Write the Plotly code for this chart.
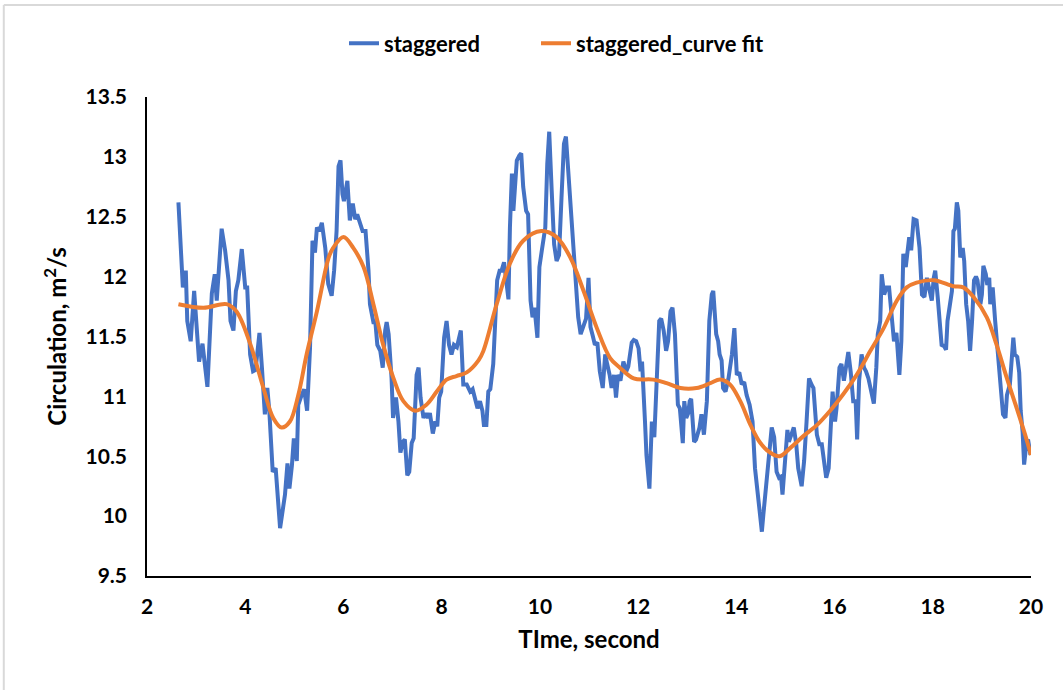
"""
Circulation over time for the staggered case, with the curve fit on top.
"""

import plotly.graph_objects as go

# Raw signal
time_staggered = [
    2.64, 2.73, 2.79, 2.82, 2.89, 2.96, 3.06, 3.13, 3.23, 3.32, 3.38, 3.42, 3.52, 3.59, 3.66, 3.70,
    3.76, 3.81, 3.86, 3.93, 4.00, 4.04, 4.10, 4.16, 4.21, 4.29, 4.34, 4.40, 4.45, 4.49, 4.56, 4.62,
    4.71, 4.76, 4.81, 4.86, 4.90, 4.95, 4.99, 5.05, 5.08, 5.14, 5.20, 5.26, 5.32, 5.37, 5.42, 5.46,
    5.51, 5.56, 5.63, 5.69, 5.76, 5.81, 5.86, 5.90, 5.94, 5.98, 6.01, 6.08, 6.13, 6.19, 6.24, 6.28,
    6.33, 6.39, 6.45, 6.51, 6.54, 6.61, 6.65, 6.69, 6.75, 6.80, 6.85, 6.88, 6.92, 6.98, 7.01, 7.07,
    7.12, 7.16, 7.21, 7.25, 7.30, 7.34, 7.39, 7.43, 7.49, 7.53, 7.57, 7.63, 7.68, 7.72, 7.76, 7.82,
    7.87, 7.91, 7.95, 7.99, 8.05, 8.10, 8.15, 8.20, 8.25, 8.31, 8.39, 8.44, 8.51, 8.58, 8.63, 8.68,
    8.73, 8.78, 8.83, 8.86, 8.91, 8.95, 8.99, 9.05, 9.09, 9.13, 9.18, 9.22, 9.27, 9.31, 9.36, 9.39,
    9.43, 9.46, 9.53, 9.58, 9.62, 9.66, 9.72, 9.76, 9.81, 9.85, 9.89, 9.95, 9.99, 10.04, 10.11, 10.15,
    10.19, 10.24, 10.29, 10.34, 10.39, 10.44, 10.49, 10.53, 10.58, 10.63, 10.67, 10.74, 10.78, 10.83,
    10.88, 10.94, 10.99, 11.03, 11.08, 11.12, 11.17, 11.22, 11.28, 11.33, 11.37, 11.42, 11.46, 11.51,
    11.55, 11.59, 11.64, 11.70, 11.76, 11.80, 11.87, 11.91, 11.96, 12.01, 12.05, 12.08, 12.14, 12.17,
    12.23, 12.28, 12.33, 12.38, 12.43, 12.47, 12.52, 12.57, 12.61, 12.66, 12.70, 12.75, 12.78, 12.81,
    12.85, 12.91, 12.94, 12.98, 13.02, 13.05, 13.08, 13.14, 13.18, 13.25, 13.29, 13.34, 13.40, 13.45,
    13.50, 13.53, 13.59, 13.63, 13.66, 13.70, 13.73, 13.78, 13.84, 13.91, 13.96, 14.01, 14.06, 14.11,
    14.16, 14.21, 14.27, 14.33, 14.38, 14.43, 14.48, 14.52, 14.55, 14.62, 14.67, 14.72, 14.77, 14.82,
    14.87, 14.91, 14.94, 14.99, 15.04, 15.07, 15.12, 15.17, 15.22, 15.26, 15.33, 15.38, 15.43, 15.48,
    15.53, 15.57, 15.64, 15.69, 15.74, 15.79, 15.83, 15.88, 15.92, 15.96, 16.01, 16.04, 16.10, 16.14,
    16.19, 16.23, 16.28, 16.33, 16.38, 16.43, 16.46, 16.50, 16.55, 16.60, 16.64, 16.69, 16.76, 16.80,
    16.85, 16.88, 16.93, 16.96, 17.01, 17.06, 17.11, 17.17, 17.21, 17.26, 17.32, 17.36, 17.40, 17.45,
    17.52, 17.56, 17.61, 17.67, 17.73, 17.78, 17.83, 17.88, 17.93, 17.98, 18.02, 18.05, 18.10, 18.15,
    18.18, 18.23, 18.27, 18.30, 18.34, 18.39, 18.42, 18.45, 18.49, 18.52, 18.56, 18.61, 18.64, 18.68,
    18.72, 18.76, 18.80, 18.84, 18.88, 18.91, 18.97, 19.00, 19.03, 19.08, 19.11, 19.15, 19.17, 19.22,
    19.27, 19.30, 19.34, 19.39, 19.43, 19.48, 19.51, 19.57, 19.61, 19.64, 19.67, 19.72, 19.76, 19.79,
    19.83, 19.86, 19.91, 19.94, 19.99,
]
circ_staggered = [
    12.62, 11.91, 12.05, 11.63, 11.46, 11.88, 11.29, 11.44, 11.08, 11.86, 12.02, 11.80, 12.40, 12.22, 11.97, 11.63,
    11.55, 11.88, 11.97, 12.23, 11.91, 11.91, 11.35, 11.21, 11.22, 11.53, 11.24, 10.85, 11.07, 10.88, 10.37, 10.40,
    9.90, 10.04, 10.18, 10.44, 10.23, 10.42, 10.65, 10.46, 10.93, 11.00, 11.06, 10.88, 11.41, 12.30, 12.20, 12.41,
    12.38, 12.45, 12.24, 11.94, 11.84, 12.05, 12.38, 12.92, 12.97, 12.69, 12.63, 12.80, 12.47, 12.61, 12.48, 12.52,
    12.45, 12.38, 12.38, 12.05, 11.77, 11.62, 11.62, 11.43, 11.38, 11.24, 11.55, 11.62, 11.52, 11.15, 10.82, 10.99,
    10.79, 10.53, 10.62, 10.64, 10.34, 10.37, 10.61, 10.65, 11.18, 11.24, 10.99, 10.82, 10.86, 10.82, 10.86, 10.69,
    10.79, 10.75, 10.99, 11.04, 11.49, 11.63, 11.43, 11.35, 11.43, 11.41, 11.55, 11.10, 11.10, 11.04, 11.06, 10.96,
    10.90, 10.96, 10.88, 10.76, 10.76, 11.04, 11.06, 11.27, 11.55, 11.97, 12.05, 12.05, 12.12, 11.99, 11.81, 12.41,
    12.86, 12.55, 12.97, 13.01, 13.03, 12.75, 12.55, 12.52, 11.80, 11.66, 11.74, 11.49, 12.08, 12.22, 12.41, 12.94,
    13.21, 12.72, 12.27, 12.13, 12.18, 12.66, 13.11, 13.17, 12.89, 12.52, 12.38, 11.99, 11.66, 11.52,
    11.58, 11.65, 11.99, 11.58, 11.50, 11.43, 11.45, 11.21, 11.07, 11.35, 11.27, 11.18, 11.07, 11.18,
    10.99, 11.18, 11.13, 11.29, 11.21, 11.25, 11.45, 11.47, 11.46, 11.40, 11.21, 11.29, 10.79, 10.51,
    10.23, 10.79, 10.66, 11.13, 11.63, 11.65, 11.55, 11.38, 11.46, 11.71, 11.74, 11.52, 11.24, 10.93,
    10.90, 10.61, 10.96, 10.82, 10.86, 10.96, 10.98, 10.62, 10.64, 10.74, 10.85, 10.68, 10.96, 11.63,
    11.85, 11.88, 11.52, 11.46, 11.35, 11.30, 11.07, 11.04, 11.15, 11.35, 11.57, 11.18, 11.20, 11.10,
    11.12, 11.01, 10.93, 10.79, 10.40, 10.23, 10.01, 9.87, 10.01, 10.34, 10.51, 10.74, 10.66, 10.37,
    10.32, 10.33, 10.18, 10.48, 10.72, 10.62, 10.68, 10.74, 10.60, 10.40, 10.25, 10.46, 10.79, 11.15,
    11.10, 11.07, 10.68, 10.60, 10.60, 10.46, 10.32, 10.40, 10.79, 11.04, 10.79, 10.90, 11.24, 11.27,
    11.13, 11.24, 11.37, 11.20, 10.96, 10.96, 10.64, 11.13, 11.35, 11.24, 11.21, 11.15, 11.01, 10.94,
    11.24, 11.52, 11.63, 12.02, 11.85, 11.91, 11.91, 11.63, 11.46, 11.53, 11.18, 11.46, 12.19, 12.08,
    12.33, 12.22, 12.48, 12.47, 12.24, 11.85, 11.83, 11.99, 11.90, 11.80, 11.99, 12.05, 11.83, 11.63,
    11.43, 11.42, 11.39, 11.63, 11.77, 11.88, 12.38, 12.40, 12.62, 12.55, 12.16, 12.24, 12.13, 11.77,
    11.63, 11.38, 11.63, 11.97, 12.00, 11.97, 11.77, 11.85, 12.09, 12.02, 11.93, 11.99, 11.77, 11.91,
    11.63, 11.50, 11.27, 11.07, 10.85, 10.82, 11.01, 11.10, 11.41, 11.49, 11.35, 11.33, 11.20, 10.88,
    10.70, 10.43, 10.62, 10.64, 10.51,
]

# Curve fit
time_fit = [
    2.64, 3.15, 3.62, 3.82, 4.10, 4.37, 4.57, 4.74, 4.91, 5.08, 5.25, 5.46, 5.70, 5.79, 6.00, 6.20,
    6.41, 6.61, 6.81, 7.02, 7.22, 7.46, 7.69, 7.90, 8.10, 8.30, 8.51, 8.75, 8.85, 9.12, 9.39, 9.66,
    10.03, 10.34, 10.62, 10.89, 11.16, 11.43, 11.63, 11.91, 12.31, 12.58, 12.86, 13.19, 13.47, 13.67,
    13.87, 14.08, 14.29, 14.49, 14.69, 14.88, 15.10, 15.37, 15.64, 15.91, 16.18, 16.45, 16.73, 17.00,
    17.27, 17.47, 17.67, 18.02, 18.42, 18.62, 18.83, 19.10, 19.30, 19.51, 19.71, 19.88, 20.00,
]
circ_fit = [
    11.77, 11.74, 11.77, 11.71, 11.44, 11.07, 10.82, 10.74, 10.79, 11.01, 11.35, 11.71, 12.16, 12.24, 12.33, 12.24,
    12.08, 11.77, 11.43, 11.15, 10.96, 10.88, 10.93, 11.04, 11.14, 11.17, 11.20, 11.30, 11.38, 11.77, 12.11, 12.30,
    12.38, 12.33, 12.16, 11.88, 11.57, 11.32, 11.24, 11.15, 11.14, 11.11, 11.07, 11.07, 11.11, 11.14,
    11.10, 10.96, 10.76, 10.61, 10.53, 10.50, 10.57, 10.67, 10.76, 10.88, 11.02, 11.18, 11.38, 11.57,
    11.80, 11.91, 11.95, 11.97, 11.92, 11.91, 11.83, 11.66, 11.43, 11.15, 10.90, 10.68, 10.51,
]

x_ticks = [2, 4, 6, 8, 10, 12, 14, 16, 18, 20]
y_ticks = [9.5, 10, 10.5, 11, 11.5, 12, 12.5, 13, 13.5]

FONT = "Lato, 'Open Sans', sans-serif"


def plot_circulation():
    """ Line chart with the raw signal in blue and the fit in orange. """
    fig = go.Figure()
    fig.add_trace(go.Scatter(x=time_staggered, y=circ_staggered, mode="lines",
                             name="staggered", legend="legend",
                             line=dict(color="#4472C4", width=4)))
    fig.add_trace(go.Scatter(x=time_fit, y=circ_fit, mode="lines",
                             name="staggered_curve fit", legend="legend2",
                             line=dict(color="#ED7D31", width=4, shape="spline")))

    # light grey frame of the chart area (only top and left show in the picture)
    frame = dict(color="#D9D9D9", width=2)
    fig.add_shape(type="line", xref="paper", yref="paper",
                  x0=-0.162, x1=1.04, y0=1.192, y1=1.192, line=frame)
    fig.add_shape(type="line", xref="paper", yref="paper",
                  x0=-0.162, x1=-0.162, y0=-0.24, y1=1.192, line=frame)

    legend_style = dict(orientation="h", xref="container", yref="container",
                        xanchor="left", y=0.937, yanchor="middle",
                        bgcolor="rgba(0,0,0,0)",
                        font=dict(size=22, family=FONT, weight="bold"))

    fig.update_layout(
        width=1063, height=690,
        margin=dict(l=147, r=32, t=97, b=114),
        paper_bgcolor="white", plot_bgcolor="white",
        font=dict(family=FONT, color="black", size=21),
        showlegend=True,
        legend=dict(x=344 / 1063, **legend_style),
        legend2=dict(x=536 / 1063, **legend_style),
        xaxis=dict(
            range=[2, 20], tickvals=x_ticks, showgrid=False, zeroline=False,
            showline=True, linecolor="black", linewidth=1.5, automargin=False,
            ticks="outside", ticklen=11, tickcolor="rgba(0,0,0,0)",
            tickfont=dict(size=21, weight="bold"),
            title=dict(text="TIme, second", font=dict(size=24, weight="bold"), standoff=14),
        ),
        yaxis=dict(
            range=[9.5, 13.5], tickvals=y_ticks, showgrid=False, zeroline=False,
            showline=True, linecolor="black", linewidth=1.5, automargin=False,
            ticks="outside", ticklen=14, tickcolor="rgba(0,0,0,0)",
            tickfont=dict(size=21, weight="bold"),
            title=dict(text="Circulation, m<sup>2</sup>/s", font=dict(size=24, weight="bold"),
                       standoff=12),
        ),
    )
    return fig


def main():
    fig = plot_circulation()
    # the page body has a default 8px margin; drop it so the chart sits at 0,0
    fig.write_html("out.html", config={"displayModeBar": False},
                   post_script="document.body.style.margin='0';")


if __name__ == "__main__":
    main()
